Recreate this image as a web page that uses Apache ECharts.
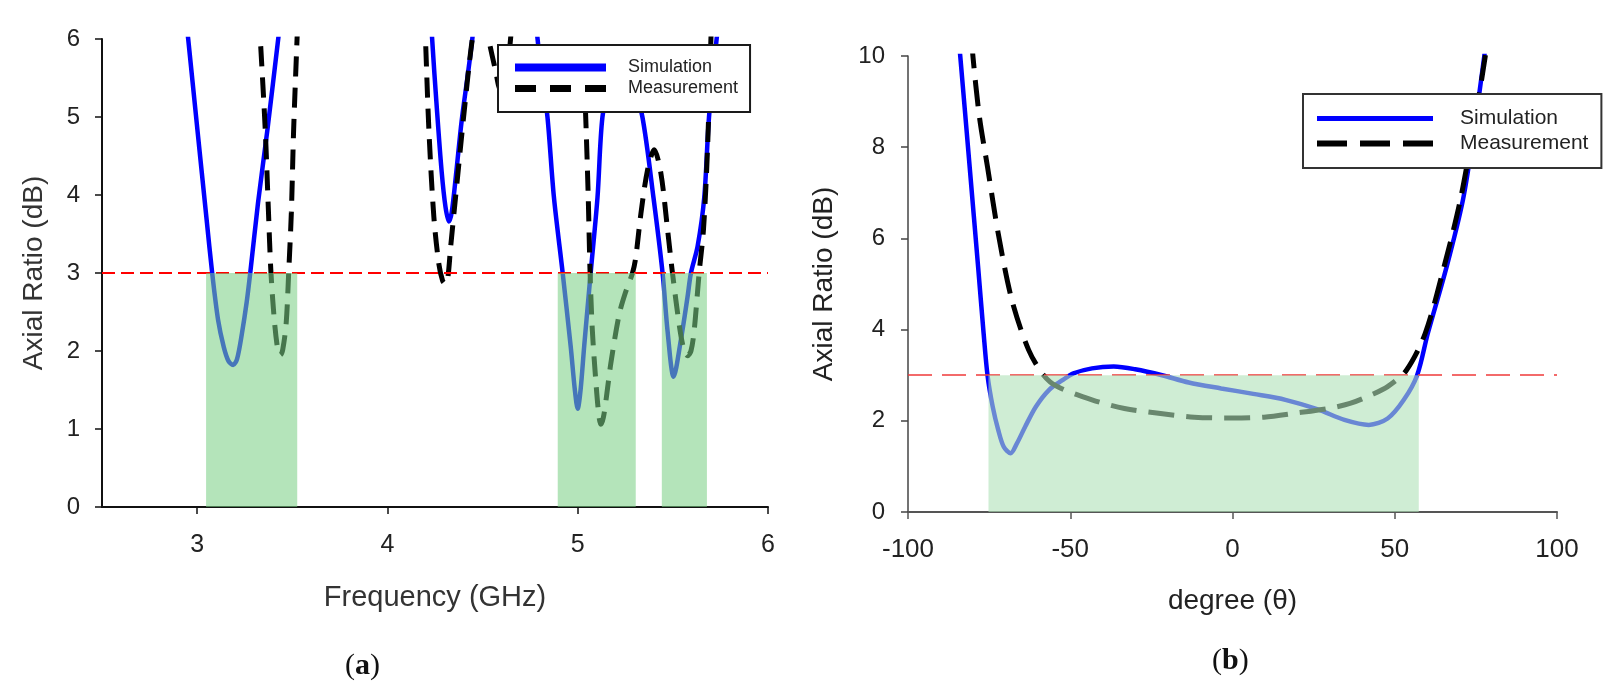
<!DOCTYPE html>
<html>
<head>
<meta charset="utf-8">
<script src="https://cdn.jsdelivr.net/npm/echarts@6.0.0/dist/echarts.min.js"></script>
<style>
html,body{margin:0;padding:0;background:#fff;}
#chart{width:1622px;height:694px;}
</style>
</head>
<body>
<div id="chart"></div>
<script>
// ---------- DATA ----------
// (a) Frequency sweep, x in GHz, y = axial ratio in dB (segments leave the top of the plot)
const freqTicks = [3, 4, 5, 6];
const simulationA = [
  [[2.94,6.3],[2.953,6.0],[3.0,4.87],[3.05,3.68],[3.079,3.0],[3.11,2.4],[3.14,2.05],[3.165,1.87],[3.189,1.82],[3.21,1.9],[3.235,2.22],[3.26,2.62],[3.279,3.0],[3.32,3.9],[3.37,4.85],[3.426,6.0],[3.44,6.3]],
  [[4.23,6.3],[4.235,6.0],[4.26,5.1],[4.285,4.3],[4.305,3.85],[4.323,3.66],[4.338,3.78],[4.36,4.25],[4.39,4.95],[4.42,5.5],[4.446,6.0],[4.455,6.3]],
  [[4.78,6.3],[4.789,6.0],[4.815,5.45],[4.841,5.0],[4.875,3.97],[4.921,3.0],[4.963,2.06],[4.985,1.5],[5.0,1.26],[5.015,1.5],[5.034,2.06],[5.068,3.0],[5.104,3.97],[5.13,5.0],[5.17,5.4],[5.226,5.5],[5.29,5.4],[5.34,5.0],[5.398,3.97],[5.446,3.0],[5.472,2.26],[5.504,1.67],[5.542,2.14],[5.577,2.69],[5.595,3.0],[5.63,3.34],[5.665,3.97],[5.69,5.0],[5.73,6.0],[5.745,6.3]]
];
const measurementA = [
  [[3.325,6.3],[3.332,6.0],[3.358,4.83],[3.375,3.77],[3.388,3.0],[3.407,2.36],[3.425,2.0],[3.437,1.95],[3.45,2.02],[3.468,2.36],[3.481,3.0],[3.495,3.77],[3.507,4.83],[3.525,6.0],[3.53,6.3]],
  [[4.195,6.3],[4.2,6.0],[4.218,4.83],[4.244,3.72],[4.27,3.12],[4.29,2.9],[4.305,2.86],[4.318,2.95],[4.332,3.33],[4.358,3.97],[4.402,5.04],[4.446,6.0],[4.49,6.6],[4.532,6.0],[4.568,5.6],[4.595,5.35],[4.62,5.4],[4.647,6.0],[4.655,6.3]],
  [[5.022,6.3],[5.026,6.0],[5.042,5.0],[5.055,4.0],[5.065,3.0],[5.077,2.26],[5.095,1.62],[5.11,1.2],[5.121,1.06],[5.135,1.15],[5.153,1.45],[5.174,1.84],[5.218,2.47],[5.255,2.78],[5.288,3.0],[5.305,3.2],[5.332,3.76],[5.367,4.32],[5.402,4.58],[5.437,4.28],[5.472,3.56],[5.498,3.0],[5.538,2.26],[5.56,2.0],[5.577,1.94],[5.595,2.0],[5.612,2.26],[5.638,3.0],[5.661,3.56],[5.682,4.58],[5.7,6.0],[5.705,6.3]]
];
// 3-dB bandwidth bands: [start, end, AR limit]
const bandsA = [[3.047,3.526,3],[4.895,5.305,3],[5.442,5.679,3]];

// (b) Angle sweep, x in degrees
const simulationB = [[-84.3,10.3],[-83.9,10],[-81,7.57],[-78.4,5.38],[-76.7,3.92],[-75.5,3.0],[-73.9,2.31],[-72.2,1.8],[-70.5,1.43],[-68.4,1.29],[-66.4,1.51],[-63.9,1.87],[-60.6,2.31],[-56.5,2.68],[-52.4,2.89],[-49,3.04],[-43.3,3.15],[-36.6,3.19],[-30,3.13],[-21.7,3.0],[-13.5,2.84],[-3.5,2.71],[6.4,2.59],[16.3,2.46],[26.3,2.25],[34.5,2.02],[42,1.91],[47.8,2.05],[52.8,2.46],[56.9,3.0],[60.2,3.92],[66,5.38],[71,6.84],[74.3,8.3],[77.6,10.0],[77.9,10.3]];
const measurementB = [[-80.2,10.3],[-80,10],[-78,8.67],[-75.5,7.57],[-72.2,6.11],[-68,4.65],[-62.8,3.55],[-58.2,3.0],[-54,2.75],[-43.3,2.46],[-33.3,2.27],[-23.4,2.17],[-11.8,2.08],[-0.2,2.06],[9.7,2.08],[19.6,2.17],[29.6,2.27],[36.2,2.38],[42.8,2.57],[47.8,2.75],[53.6,3.11],[59.4,3.92],[65.2,5.38],[70.2,6.84],[74.3,8.44],[77.9,10.0],[78.1,10.3]];
const bandsB = [[-75.2,57.4,3]];
const arLimit = 3;

// ---------- CHART ----------
const FONT = '"Liberation Sans", Arial, sans-serif';
function joinSegments(segs){
  const out = [];
  segs.forEach((s, i) => {
    if (i > 0) out.push([s[0][0], '-']);
    s.forEach(p => out.push(p));
  });
  return out;
}
function bandRenderer(color){
  return function(params, api){
    const a = api.coord([api.value(0), api.value(2)]);
    const b = api.coord([api.value(1), 0]);
    return {type:'rect', shape:{x:a[0], y:a[1], width:b[0]-a[0], height:b[1]-a[1]}, style:{fill:color}};
  };
}
const hiddenSymbol = {opacity:0, color:'rgba(0,0,0,0)', borderWidth:0};
const chart = echarts.init(document.getElementById('chart'), null, {renderer:'canvas'});
const option = {
  animation: false,
  backgroundColor: '#fff',
  grid: [
    {left:102, top:39, width:666, height:468},
    {left:908, top:56, width:649, height:456}
  ],
  xAxis: [
    {gridIndex:0, type:'value', min:2.5, max:6,
     name:'Frequency (GHz)', nameLocation:'middle', nameGap:76,
     nameTextStyle:{fontFamily:FONT, fontSize:29, color:'#333'},
     axisLine:{onZero:false, lineStyle:{color:'#111', width:2}},
     axisTick:{show:true, length:7, customValues:freqTicks, lineStyle:{color:'#111', width:1.5}},
     axisLabel:{customValues:freqTicks, margin:26, fontFamily:FONT, fontSize:25, color:'#222'},
     splitLine:{show:false}},
    {gridIndex:1, type:'value', min:-100, max:100, interval:50,
     name:'degree (θ)', nameLocation:'middle', nameGap:75,
     nameTextStyle:{fontFamily:FONT, fontSize:28, color:'#222'},
     axisLine:{onZero:false, lineStyle:{color:'#555', width:2}},
     axisTick:{show:true, length:7, lineStyle:{color:'#555', width:1.5}},
     axisLabel:{margin:25, fontFamily:FONT, fontSize:26, color:'#222'},
     splitLine:{show:false}}
  ],
  yAxis: [
    {gridIndex:0, type:'value', min:0, max:6, interval:1,
     name:'Axial Ratio (dB)', nameLocation:'middle', nameGap:54,
     nameTextStyle:{fontFamily:FONT, fontSize:28, color:'#333'},
     axisLine:{show:true, onZero:false, lineStyle:{color:'#111', width:2}},
     axisTick:{show:true, length:7, lineStyle:{color:'#111', width:1.5}},
     axisLabel:{margin:22, fontFamily:FONT, fontSize:24, color:'#222'},
     splitLine:{show:false}},
    {gridIndex:1, type:'value', min:0, max:10, interval:2,
     name:'Axial Ratio (dB)', nameLocation:'middle', nameGap:70,
     nameTextStyle:{fontFamily:FONT, fontSize:28, color:'#222'},
     axisLine:{show:true, onZero:false, lineStyle:{color:'#444', width:1.5}},
     axisTick:{show:true, length:7, lineStyle:{color:'#444', width:1.5}},
     axisLabel:{margin:23, fontFamily:FONT, fontSize:24, color:'#222'},
     splitLine:{show:false}}
  ],
  legend: [
    {orient:'vertical', left:498, top:45, padding:[12,12,13,13], itemWidth:91, itemHeight:21, itemGap:0,
     backgroundColor:'#fff', borderColor:'#1a1a1a', borderWidth:2, selectedMode:false, z:20,
     textStyle:{fontFamily:FONT, fontSize:18, color:'#222', padding:[0,0,0,17], lineHeight:21},
     data:[
       {name:'Simulation', itemStyle:hiddenSymbol, lineStyle:{width:8, type:'solid', color:'#0000ff'}},
       {name:'Measurement', itemStyle:hiddenSymbol, lineStyle:{width:7, type:[21,14], color:'#000'}}
     ]},
    {orient:'vertical', left:1303, top:94, padding:[12,13,12,11], itemWidth:116, itemHeight:25, itemGap:0,
     backgroundColor:'#fff', borderColor:'#333', borderWidth:2, selectedMode:false, z:20,
     textStyle:{fontFamily:FONT, fontSize:21, color:'#222', padding:[0,0,0,22], lineHeight:25},
     data:[
       {name:'Simulation', itemStyle:hiddenSymbol, lineStyle:{width:5, type:'solid', color:'#0000ff'}},
       {name:'Measurement', itemStyle:hiddenSymbol, lineStyle:{width:6, type:[30,13], color:'#000'}}
     ]}
  ],
  graphic: [
    {type:'text', left:345, top:651, style:{text:'{p|(}{b|a}{p|)}', rich:{
      p:{fontFamily:'"Liberation Serif", serif', fontSize:30, fill:'#111'},
      b:{fontFamily:'"Liberation Serif", serif', fontSize:30, fontWeight:'bold', fill:'#111'}}}},
    {type:'text', left:1212, top:646, style:{text:'{p|(}{b|b}{p|)}', rich:{
      p:{fontFamily:'"Liberation Serif", serif', fontSize:30, fill:'#111'},
      b:{fontFamily:'"Liberation Serif", serif', fontSize:30, fontWeight:'bold', fill:'#111'}}}}
  ],
  series: [
    {name:'Simulation', type:'line', xAxisIndex:0, yAxisIndex:0, data:joinSegments(simulationA),
     symbol:'none', smooth:0.3, connectNulls:false, z:2, color:'#0000ff',
     lineStyle:{color:'#0000ff', width:4.5},
     markLine:{silent:true, symbol:['none','none'], label:{show:false},
       lineStyle:{color:'#ff0000', width:2, type:[13,6]}, data:[{yAxis:arLimit}]}},
    {name:'Measurement', type:'line', xAxisIndex:0, yAxisIndex:0, data:joinSegments(measurementA),
     symbol:'none', smooth:0.3, connectNulls:false, z:2, color:'#000',
     lineStyle:{color:'#000', width:5, type:[20,11]}},
    {name:'bandA', type:'custom', xAxisIndex:0, yAxisIndex:0, data:bandsA, z:5, silent:true,
     encode:{x:[0,1], y:2}, renderItem:bandRenderer('rgba(123,207,133,0.57)')},

    {name:'Simulation', type:'line', xAxisIndex:1, yAxisIndex:1, data:simulationB,
     symbol:'none', smooth:0.3, z:2, color:'#0000ff',
     lineStyle:{color:'#0000ff', width:4.5},
     markLine:{silent:true, symbol:['none','none'], label:{show:false},
       lineStyle:{color:'#f03a3a', width:1.5, type:[24,10]}, data:[{yAxis:arLimit}]}},
    {name:'Measurement', type:'line', xAxisIndex:1, yAxisIndex:1, data:measurementB,
     symbol:'none', smooth:0.3, z:2, color:'#000',
     lineStyle:{color:'#000', width:5, type:[26,12]}},
    {name:'bandB', type:'custom', xAxisIndex:1, yAxisIndex:1, data:bandsB, z:5, silent:true,
     encode:{x:[0,1], y:2}, renderItem:bandRenderer('rgba(175,225,183,0.6)')}
  ]
};
chart.setOption(option);
</script>
</body>
</html>
